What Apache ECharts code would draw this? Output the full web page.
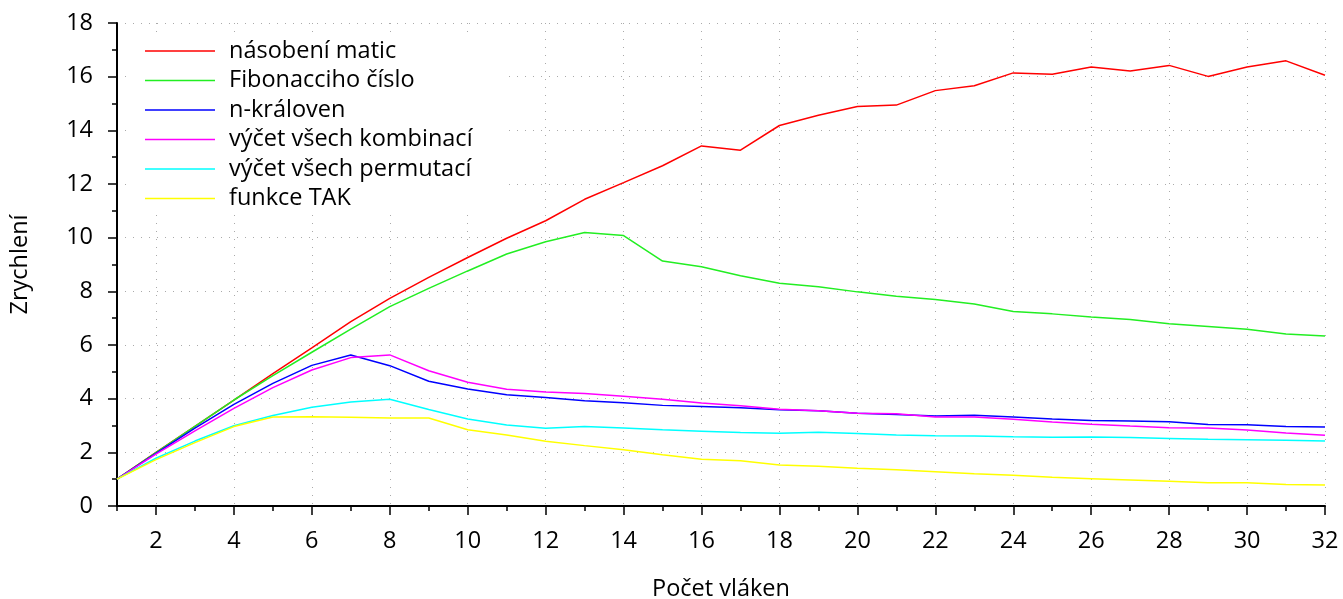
<!DOCTYPE html>
<html>
<head>
<meta charset="utf-8">
<script src="https://cdn.jsdelivr.net/npm/echarts@6/dist/echarts.min.js"></script>
<style>
html,body{margin:0;padding:0;background:#fff;}
#chart{width:1343px;height:599px;}
</style>
</head>
<body>
<div id="chart"></div>
<script>
const threads = ['1','2','3','4','5','6','7','8','9','10','11','12','13','14','15','16','17','18','19','20','21','22','23','24','25','26','27','28','29','30','31','32'];
const nasobeniMatic = [1,2.0,2.97,3.95,4.93,5.89,6.87,7.74,8.52,9.26,9.98,10.63,11.43,12.05,12.68,13.42,13.26,14.18,14.56,14.89,14.94,15.48,15.66,16.14,16.09,16.36,16.21,16.42,16.01,16.36,16.59,16.05];
const fibonacci = [1,1.99,2.97,3.95,4.86,5.73,6.59,7.43,8.11,8.76,9.39,9.85,10.19,10.08,9.13,8.92,8.58,8.30,8.17,7.98,7.82,7.70,7.53,7.25,7.16,7.04,6.95,6.79,6.69,6.59,6.41,6.34];
const nKraloven = [1,1.96,2.9,3.79,4.57,5.24,5.63,5.23,4.65,4.36,4.15,4.04,3.92,3.85,3.75,3.71,3.66,3.59,3.55,3.46,3.41,3.35,3.38,3.32,3.24,3.19,3.17,3.14,3.04,3.03,2.96,2.94];
const kombinace = [1,1.93,2.8,3.64,4.41,5.07,5.53,5.63,5.04,4.61,4.35,4.25,4.19,4.09,3.98,3.84,3.74,3.61,3.55,3.46,3.44,3.32,3.32,3.23,3.13,3.05,2.98,2.92,2.91,2.83,2.72,2.64];
const permutace = [1,1.78,2.42,2.99,3.37,3.68,3.88,3.98,3.60,3.24,3.02,2.90,2.96,2.91,2.84,2.79,2.74,2.71,2.75,2.70,2.65,2.62,2.61,2.58,2.56,2.57,2.55,2.52,2.49,2.47,2.45,2.42];
const tak = [1,1.73,2.36,2.96,3.32,3.33,3.31,3.28,3.28,2.84,2.65,2.41,2.25,2.10,1.91,1.74,1.69,1.53,1.48,1.41,1.35,1.28,1.20,1.15,1.07,1.02,0.97,0.92,0.87,0.87,0.80,0.78];
const seriesNames = ['násobení matic','Fibonacciho číslo','n-královen','výčet všech kombinací','výčet všech permutací','funkce TAK'];
const seriesColors = ['#ff0000','#22ee22','#0000ff','#ff00ff','#00ffff','#ffff00'];
const seriesData = [nasobeniMatic, fibonacci, nKraloven, kombinace, permutace, tak];

const FONT = 'Open Sans';
const FS = 23.5;
const chart = echarts.init(document.getElementById('chart'), null, {renderer:'canvas'});
const isEven = (idx) => (idx + 1) % 2 === 0;
chart.setOption({
  animation: false,
  backgroundColor: '#fff',
  textStyle: {fontFamily: FONT},
  grid: {left: 117, right: 18, top: 23, bottom: 93, containLabel: false, outerBoundsMode: 'none'},
  legend: {
    orient: 'vertical', left: 130, top: 36,
    padding: [3, 30, 2, 15],
    backgroundColor: '#fff',
    icon: 'rect',
    itemWidth: 70, itemHeight: 1.5, itemGap: 5.5,
    textStyle: {fontFamily: FONT, fontSize: FS, color: '#000', lineHeight: 20, padding: [0,0,0,9]},
    data: seriesNames
  },
  xAxis: [
    {
      type: 'category', data: threads, boundaryGap: false, position: 'bottom',
      axisLine: {lineStyle: {color: '#000', width: 2}},
      axisTick: {show: true, length: 5, interval: 0, lineStyle: {color: '#000', width: 1.5}},
      axisLabel: {show: false},
      splitLine: {show: false}
    },
    {
      type: 'category', data: threads, boundaryGap: false, position: 'bottom',
      name: 'Počet vláken', nameLocation: 'middle', nameGap: 71,
      nameTextStyle: {fontFamily: FONT, fontSize: FS, color: '#000'},
      axisLine: {show: false},
      axisTick: {show: true, length: 9, interval: (i) => isEven(i), lineStyle: {color: '#000', width: 1.5}},
      axisLabel: {show: true, interval: (i) => isEven(i), margin: 23, fontFamily: FONT, fontSize: FS, color: '#000'},
      splitLine: {show: true, interval: (i) => isEven(i), lineStyle: {color: '#aaa', width: 1, type: [1, 7]}}
    }
  ],
  yAxis: {
    type: 'value', min: 0, max: 18, interval: 2,
    name: 'Zrychlení', nameLocation: 'middle', nameGap: 85,
    nameTextStyle: {fontFamily: FONT, fontSize: FS, color: '#000'},
    axisLine: {show: true, lineStyle: {color: '#000', width: 2}},
    axisTick: {show: true, length: 9, lineStyle: {color: '#000', width: 1.5}},
    minorTick: {show: true, splitNumber: 2, length: 5, lineStyle: {color: '#000', width: 1.5}},
    axisLabel: {margin: 24, fontFamily: FONT, fontSize: FS, color: '#000'},
    splitLine: {show: true, lineStyle: {color: '#aaa', width: 1, type: [1, 7]}}
  },
  series: seriesNames.map((n, i) => ({
    name: n, type: 'line', xAxisIndex: 0, data: seriesData[i],
    symbol: 'none', lineStyle: {color: seriesColors[i], width: 1.5},
    itemStyle: {color: seriesColors[i]},
    emphasis: {disabled: true}
  }))
});
</script>
</body>
</html>
